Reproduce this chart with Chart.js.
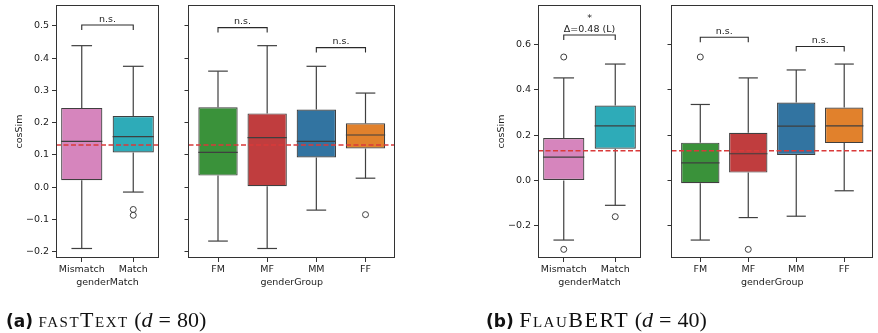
<!DOCTYPE html>
<html>
<head>
<meta charset="utf-8">
<script src="https://cdn.jsdelivr.net/npm/chart.js@4.4.0/dist/chart.umd.min.js"></script>
<style>
    body { margin: 0; background: #fff; }
    #fig { position: relative; width: 878px; height: 333px; overflow: hidden; }
    #fig canvas { position: absolute; left: 0; top: 0; }
    .cap { position: absolute; top: 307px; white-space: nowrap; font-family: "Liberation Serif"; font-size: 22px; line-height: 26px; color: #111; }
    .cap b { font-family: "DejaVu Sans"; font-size: 17px; }
    .sc { font-variant: small-caps; letter-spacing: 1.5px; }
    .eq { margin: 0 6px; }
</style>
</head>
<body>
<div id="fig">
    <canvas id="ftMatch" width="878" height="333"></canvas>
    <canvas id="ftGroup" width="878" height="333"></canvas>
    <canvas id="fbMatch" width="878" height="333"></canvas>
    <canvas id="fbGroup" width="878" height="333"></canvas>
    <div class="cap" style="left:6px"><b>(a)</b> <span class="sc">fastText</span> (<i>d</i><span class="eq">=</span>80)</div>
    <div class="cap" style="left:486px"><b>(b)</b> <span class="sc">FlauBERT</span> (<i>d</i><span class="eq">=</span>40)</div>
</div>
<script>
// ==========================================
// cosSim por genderMatch / genderGroup
// ==========================================

const matchCats = ["Mismatch", "Match"];
const groupCats = ["FM", "MF", "MM", "FF"];

// --- fastText (d = 80) ---
const ftTicks = [-0.2, -0.1, 0.0, 0.1, 0.2, 0.3, 0.4, 0.5];
const ftMean = 0.131;

const ftMatchLo  = [-0.190, -0.015];
const ftMatchQ1  = [0.022, 0.108];
const ftMatchMed = [0.142, 0.157];
const ftMatchQ3  = [0.246, 0.221];
const ftMatchHi  = [0.439, 0.375];
const ftMatchOut = [[], [-0.069, -0.087]];

const ftGroupLo  = [-0.167, -0.190, -0.071, 0.028];
const ftGroupQ1  = [0.036, 0.003, 0.092, 0.120];
const ftGroupMed = [0.108, 0.154, 0.142, 0.162];
const ftGroupQ3  = [0.248, 0.229, 0.241, 0.198];
const ftGroupHi  = [0.360, 0.439, 0.375, 0.292];
const ftGroupOut = [[], [], [], [-0.085]];

// --- FlauBERT (d = 40) ---
const fbTicks = [-0.2, 0.0, 0.2, 0.4, 0.6];
const fbMean = 0.131;

const fbMatchLo  = [-0.262, -0.109];
const fbMatchQ1  = [0.000, 0.140];
const fbMatchMed = [0.103, 0.241];
const fbMatchQ3  = [0.187, 0.330];
const fbMatchHi  = [0.452, 0.513];
const fbMatchOut = [[0.544, -0.303], [-0.159]];

const fbGroupLo  = [-0.262, -0.163, -0.157, -0.045];
const fbGroupQ1  = [-0.012, 0.035, 0.113, 0.165];
const fbGroupMed = [0.078, 0.118, 0.240, 0.241];
const fbGroupQ3  = [0.167, 0.210, 0.344, 0.322];
const fbGroupHi  = [0.335, 0.452, 0.487, 0.513];
const fbGroupOut = [[0.544], [-0.303], [], []];

// significance brackets: [desde, hasta, y, lineas]
const ftMatchSig = [[0, 1, 0.503, ["n.s."]]];
const ftGroupSig = [[0, 1, 0.495, ["n.s."]], [2, 3, 0.433, ["n.s."]]];
const fbMatchSig = [[0, 1, 0.641, ["*", "\u0394=0.48 (L)"]]];
const fbGroupSig = [[0, 1, 0.631, ["n.s."]], [2, 3, 0.590, ["n.s."]]];

const matchColors = ["#d685bd", "#2eabb8"];
const groupColors = ["#3a923a", "#c03d3e", "#3274a1", "#e1812c"];

const GRIS = "#3f3f3f";
const EJE = "#333333";
const TEXTO = "#222222";
const ROJO = "#d93a3a";
const TOP = 5;
const BOTTOM = 258;
const X_HEIGHT = 30.4;
const FUENTE = 9.5;

Chart.defaults.font.family = "DejaVu Sans";
Chart.defaults.font.size = FUENTE;
Chart.defaults.color = TEXTO;

function formatoTick(v) {
    return (v < 0 ? "\u2212" : "") + Math.abs(v).toFixed(1);
}

function linea(ctx, x1, y1, x2, y2) {
    ctx.beginPath();
    ctx.moveTo(x1, y1);
    ctx.lineTo(x2, y2);
    ctx.stroke();
}

function extras(s) {
    return {
        id: "extras",
        afterDatasetsDraw(chart) {
            const { ctx, chartArea: a, scales: { x, y } } = chart;
            ctx.save();
            ctx.strokeStyle = GRIS;
            ctx.lineWidth = 1.2;

            s.cats.forEach((c, i) => {
                const cx = x.getPixelForValue(i);
                const capL = x.getPixelForValue(i - 0.2);
                const capR = x.getPixelForValue(i + 0.2);
                const boxL = x.getPixelForValue(i - 0.4);
                const boxR = x.getPixelForValue(i + 0.4);
                const yHi = y.getPixelForValue(s.hi[i]);
                const yLo = y.getPixelForValue(s.lo[i]);

                linea(ctx, cx, y.getPixelForValue(s.q3[i]), cx, yHi);
                linea(ctx, cx, y.getPixelForValue(s.q1[i]), cx, yLo);
                linea(ctx, capL, yHi, capR, yHi);
                linea(ctx, capL, yLo, capR, yLo);

                const yMed = y.getPixelForValue(s.med[i]);
                linea(ctx, boxL, yMed, boxR, yMed);
            });

            // media global
            ctx.strokeStyle = ROJO;
            ctx.lineWidth = 1.4;
            ctx.setLineDash([5, 2.5]);
            const ym = y.getPixelForValue(s.mean);
            linea(ctx, a.left, ym, a.right, ym);
            ctx.restore();
        },
        afterDraw(chart) {
            const { ctx, chartArea: a, scales: { x, y } } = chart;
            ctx.save();

            // marco
            ctx.strokeStyle = EJE;
            ctx.lineWidth = 1;
            const l = Math.floor(a.left) + 0.5;
            const r = Math.ceil(a.right) - 0.5;
            const t = Math.floor(a.top) + 0.5;
            const b = Math.ceil(a.bottom) - 0.5;
            ctx.strokeRect(l, t, r - l, b - t);

            // corchetes
            ctx.strokeStyle = "#2a2a2a";
            ctx.lineWidth = 1.1;
            ctx.fillStyle = TEXTO;
            ctx.font = FUENTE + "px 'DejaVu Sans'";
            ctx.textAlign = "center";
            ctx.textBaseline = "bottom";

            s.sig.forEach(([i, j, v, lineas]) => {
                const x1 = x.getPixelForValue(i);
                const x2 = x.getPixelForValue(j);
                const yy = y.getPixelForValue(v);
                ctx.beginPath();
                ctx.moveTo(x1, yy + 5);
                ctx.lineTo(x1, yy);
                ctx.lineTo(x2, yy);
                ctx.lineTo(x2, yy + 5);
                ctx.stroke();

                lineas.slice().reverse().forEach((txt, k) => {
                    ctx.fillText(txt, (x1 + x2) / 2, yy - 1 - k * 11);
                });
            });

            ctx.restore();
        }
    };
}

function crearPanel(id, s) {
    const cajas = s.cats.map((c, i) => ({ x: i, y: [s.q1[i], s.q3[i]] }));

    const atipicos = [];
    s.out.forEach((vals, i) => vals.forEach(v => atipicos.push({ x: i, y: v })));

    return new Chart(document.getElementById(id), {
        type: "bar",
        data: {
            datasets: [
                {
                    data: cajas,
                    backgroundColor: s.colors,
                    borderColor: GRIS,
                    borderWidth: 1.2,
                    borderSkipped: false,
                    barPercentage: 0.8,
                    categoryPercentage: 1
                },
                {
                    type: "scatter",
                    data: atipicos,
                    pointStyle: "circle",
                    pointRadius: 3,
                    pointBackgroundColor: "rgba(0,0,0,0)",
                    pointBorderColor: GRIS,
                    pointBorderWidth: 1
                }
            ]
        },
        options: {
            responsive: false,
            animation: false,
            events: [],
            layout: {
                padding: {
                    left: s.left - s.yWidth,
                    right: 878 - s.right,
                    top: TOP,
                    bottom: 333 - BOTTOM - X_HEIGHT
                }
            },
            plugins: {
                legend: { display: false },
                tooltip: { enabled: false }
            },
            scales: {
                x: {
                    type: "linear",
                    min: s.xMin,
                    max: s.xMax,
                    offset: false,
                    afterBuildTicks: ax => {
                        ax.ticks = s.cats.map((c, i) => ({ value: i }));
                    },
                    afterFit: ax => {
                        ax.height = X_HEIGHT;
                        ax.paddingLeft = ax.paddingRight = ax.paddingTop = ax.paddingBottom = 0;
                    },
                    ticks: {
                        autoSkip: false,
                        maxRotation: 0,
                        padding: 2,
                        callback: v => s.cats[v]
                    },
                    grid: { drawOnChartArea: false, tickLength: 4, color: EJE, offset: false },
                    border: { display: false },
                    title: { display: true, text: s.xTitle, padding: 0 }
                },
                y: {
                    type: "linear",
                    min: s.yMin,
                    max: s.yMax,
                    afterBuildTicks: ax => {
                        ax.ticks = s.yTicks.map(v => ({ value: v }));
                    },
                    afterFit: ax => {
                        ax.width = s.yWidth;
                        ax.paddingLeft = ax.paddingRight = ax.paddingTop = ax.paddingBottom = 0;
                    },
                    ticks: {
                        display: s.showY,
                        padding: 3,
                        callback: v => formatoTick(v)
                    },
                    grid: { drawOnChartArea: false, tickLength: 4, color: EJE },
                    border: { display: false },
                    title: { display: s.showY, text: "cosSim", padding: 0 }
                }
            }
        },
        plugins: [extras(s)]
    });
}

crearPanel("ftMatch", {
    cats: matchCats, colors: matchColors,
    lo: ftMatchLo, q1: ftMatchQ1, med: ftMatchMed, q3: ftMatchQ3, hi: ftMatchHi, out: ftMatchOut,
    mean: ftMean, sig: ftMatchSig, yTicks: ftTicks, yMin: -0.2195, yMax: 0.5651,
    xMin: -0.5, xMax: 1.5, left: 56, right: 159, yWidth: 42, showY: true, xTitle: "genderMatch"
});

crearPanel("ftGroup", {
    cats: groupCats, colors: groupColors,
    lo: ftGroupLo, q1: ftGroupQ1, med: ftGroupMed, q3: ftGroupQ3, hi: ftGroupHi, out: ftGroupOut,
    mean: ftMean, sig: ftGroupSig, yTicks: ftTicks, yMin: -0.2195, yMax: 0.5651,
    xMin: -0.6, xMax: 3.6, left: 188.5, right: 395, yWidth: 10, showY: false, xTitle: "genderGroup"
});

crearPanel("fbMatch", {
    cats: matchCats, colors: matchColors,
    lo: fbMatchLo, q1: fbMatchQ1, med: fbMatchMed, q3: fbMatchQ3, hi: fbMatchHi, out: fbMatchOut,
    mean: fbMean, sig: fbMatchSig, yTicks: fbTicks, yMin: -0.341, yMax: 0.773,
    xMin: -0.5, xMax: 1.5, left: 538, right: 641, yWidth: 42, showY: true, xTitle: "genderMatch"
});

crearPanel("fbGroup", {
    cats: groupCats, colors: groupColors,
    lo: fbGroupLo, q1: fbGroupQ1, med: fbGroupMed, q3: fbGroupQ3, hi: fbGroupHi, out: fbGroupOut,
    mean: fbMean, sig: fbGroupSig, yTicks: fbTicks, yMin: -0.341, yMax: 0.773,
    xMin: -0.6, xMax: 3.6, left: 671.5, right: 877.8, yWidth: 10, showY: false, xTitle: "genderGroup"
});
</script>
</body>
</html>
